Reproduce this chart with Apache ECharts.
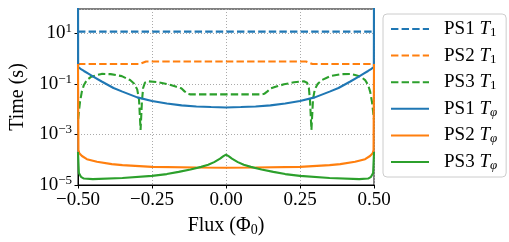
<!DOCTYPE html>
<html><head><meta charset="utf-8">
<script src="https://cdn.jsdelivr.net/npm/echarts@6/dist/echarts.min.js"></script>
<style>html,body{margin:0;padding:0;background:#fff}#c{width:509px;height:242px}</style>
</head><body><div id="c"></div>
<script>
// ---- data ----
var seriesNames = ['PS1 T1', 'PS2 T1', 'PS3 T1', 'PS1 Tphi', 'PS2 Tphi', 'PS3 Tphi'];
var legendLabels = ['PS1 {it|T}{sub|1}', 'PS2 {it|T}{sub|1}', 'PS3 {it|T}{sub|1}',
                    'PS1 {it|T}{subit|φ}', 'PS2 {it|T}{subit|φ}', 'PS3 {it|T}{subit|φ}'];
var xTicks = [-0.5, -0.25, 0, 0.25, 0.5];
var yTickExponents = [-5, -3, -1, 1];

var ps1T1Flux = [-0.5, 0.5];
var ps1T1Vals = [11.5, 11.5];

var ps2T1Flux = [-0.5, -0.292, -0.27, 0.27, 0.292, 0.5];
var ps2T1Vals = [0.6, 0.6, 0.76, 0.76, 0.6, 0.6];

var ps3T1Flux = [-0.4995, -0.497, -0.493, -0.487, -0.48, -0.47, -0.455, -0.436, -0.42, -0.39, -0.352, -0.324, -0.31, -0.30, -0.294, -0.2886, -0.284, -0.28, -0.274, -0.263, -0.23, -0.196, -0.17, -0.151, -0.14, -0.129, -0.12,
                 0.12, 0.129, 0.14, 0.151, 0.17, 0.196, 0.23, 0.263, 0.274, 0.28, 0.284, 0.2886, 0.294, 0.30, 0.31, 0.324, 0.352, 0.39, 0.42, 0.436, 0.455, 0.47, 0.48, 0.487, 0.493, 0.497, 0.4995];
var ps3T1Vals = [0.004, 0.008, 0.02, 0.049, 0.09, 0.14, 0.19, 0.22, 0.245, 0.24, 0.2, 0.14, 0.1, 0.06, 0.025, 0.0015, 0.02, 0.068, 0.11, 0.125, 0.115, 0.095, 0.078, 0.066, 0.05, 0.04, 0.038,
                 0.038, 0.04, 0.05, 0.066, 0.078, 0.095, 0.115, 0.125, 0.11, 0.068, 0.02, 0.0015, 0.025, 0.06, 0.1, 0.14, 0.2, 0.24, 0.245, 0.22, 0.19, 0.14, 0.09, 0.049, 0.02, 0.008, 0.004];

var ps1TphiFlux = [-0.5, -0.4995, -0.49, -0.48, -0.465, -0.45, -0.42, -0.38, -0.35, -0.30, -0.25, -0.20, -0.15, -0.10, -0.05, 0,
                   0.05, 0.10, 0.15, 0.20, 0.25, 0.30, 0.35, 0.38, 0.42, 0.45, 0.465, 0.48, 0.49, 0.4995, 0.5];
var ps1TphiVals = [1000, 0.46, 0.38, 0.32, 0.25, 0.195, 0.123, 0.068, 0.049, 0.029, 0.021, 0.0166, 0.014, 0.0126, 0.012, 0.0115,
                   0.012, 0.0126, 0.014, 0.0166, 0.021, 0.029, 0.049, 0.068, 0.123, 0.195, 0.25, 0.32, 0.38, 0.46, 1000];

var ps2TphiFlux = [-0.5, -0.4985, -0.4956, -0.4866, -0.47, -0.436, -0.386, -0.35, -0.25, -0.1, 0,
                   0.1, 0.25, 0.35, 0.386, 0.436, 0.47, 0.4866, 0.4956, 0.4985, 0.5];
var ps2TphiVals = [0.6, 2.4e-4, 1.8e-4, 1.4e-4, 1.05e-4, 8.3e-5, 6.7e-5, 6.1e-5, 5.2e-5, 4.9e-5, 4.8e-5,
                   4.9e-5, 5.2e-5, 6.1e-5, 6.7e-5, 8.3e-5, 1.05e-4, 1.4e-4, 1.8e-4, 2.4e-4, 0.6];

var ps3TphiFlux = [-0.5, -0.497, -0.49, -0.48, -0.45, -0.35, -0.25, -0.2, -0.16, -0.12, -0.084, -0.06, -0.04, -0.02, -0.01, 0,
                   0.01, 0.02, 0.04, 0.06, 0.084, 0.12, 0.16, 0.2, 0.25, 0.35, 0.45, 0.48, 0.49, 0.497, 0.5];
var ps3TphiVals = [2e-4, 3e-5, 2.1e-5, 1.8e-5, 1.7e-5, 1.9e-5, 2.3e-5, 2.7e-5, 3.3e-5, 4.1e-5, 5.2e-5, 6.3e-5, 8e-5, 1.1e-4, 1.35e-4, 1.6e-4,
                   1.35e-4, 1.1e-4, 8e-5, 6.3e-5, 5.2e-5, 4.1e-5, 3.3e-5, 2.7e-5, 2.3e-5, 1.9e-5, 1.7e-5, 1.8e-5, 2.1e-5, 3e-5, 2e-4];

// ---- chart ----
var BLUE = '#1f77b4', ORANGE = '#ff7f0e', GREEN = '#2ca02c';
var FONT = 'Liberation Serif';
function pairs(xs, ys) { return xs.map(function (x, i) { return [x, ys[i]]; }); }
function mk(name, xs, ys, color, dashed) {
  return {
    name: name, type: 'line', data: pairs(xs, ys), showSymbol: false, symbol: 'none',
    animation: false, clip: true,
    lineStyle: { color: color, width: 2.1, type: dashed ? [7.4, 3.2] : 'solid' },
    itemStyle: { color: color }
  };
}
var chart = echarts.init(document.getElementById('c'), null, { renderer: 'canvas' });
var legendMap = {};
seriesNames.forEach(function (n, i) { legendMap[n] = legendLabels[i]; });

chart.setOption({
  animation: false,
  grid: { left: 76, right: 135, top: 9, bottom: 57, show: true, borderColor: '#000', borderWidth: 1, backgroundColor: 'transparent' },
  xAxis: {
    type: 'value', min: xTicks[0], max: xTicks[xTicks.length - 1], interval: 0.25,
    name: 'Flux (Φ{sub|0})', nameLocation: 'middle', nameGap: 27,
    nameTextStyle: { fontFamily: FONT, fontSize: 20, color: '#000', lineHeight: 22,
      rich: { sub: { fontFamily: FONT, fontSize: 14, verticalAlign: 'bottom', lineHeight: 12, color: '#000' } } },
    axisLine: { show: true, onZero: false, lineStyle: { color: '#000', width: 1 } },
    axisTick: { show: true, inside: false, length: 3.5, lineStyle: { color: '#000', width: 1 } },
    axisLabel: { fontFamily: FONT, fontSize: 19, color: '#000', margin: 6,
      formatter: function (v) { var s = Math.abs(v).toFixed(2); return (v < -1e-9 ? '−' : '') + s; } },
    splitLine: { show: true, lineStyle: { color: '#aaaaaa', width: 1, type: [1, 2] } }
  },
  yAxis: {
    type: 'log', logBase: 10, min: Math.pow(10, yTickExponents[0]), max: 90, interval: 2,
    name: 'Time (s)', nameLocation: 'middle', nameGap: 50,
    nameTextStyle: { fontFamily: FONT, fontSize: 20, color: '#000' },
    axisLine: { show: true, onZero: false, lineStyle: { color: '#000', width: 1 } },
    axisTick: { show: true, inside: false, length: 3.5, lineStyle: { color: '#000', width: 1 } },
    minorTick: { show: false },
    axisLabel: { fontFamily: FONT, fontSize: 19, color: '#000', margin: 6, lineHeight: 22, showMaxLabel: false,
      formatter: function (v) {
        var l = Math.log(v) / Math.LN10; var e = Math.round(l);
        if (Math.abs(l - e) > 0.02 || yTickExponents.indexOf(e) < 0) return '';
        return '10{sup|' + (e < 0 ? '−' + (-e) : '' + e) + '}';
      },
      rich: { sup: { fontFamily: FONT, fontSize: 13, verticalAlign: 'top', lineHeight: 10, color: '#000' } } },
    splitLine: { show: true, lineStyle: { color: '#aaaaaa', width: 1, type: [1, 2] } }
  },
  legend: {
    orient: 'vertical', left: 383, top: 14, width: 119,
    padding: [5, 9, 5, 7], itemGap: 6.6, itemWidth: 38, itemHeight: 14,
    backgroundColor: 'rgba(255,255,255,0.8)', borderColor: '#cccccc', borderWidth: 1, borderRadius: 4,
    itemStyle: { opacity: 0 },
    lineStyle: { width: 2 },
    data: seriesNames,
    formatter: function (n) { return legendMap[n]; },
    textStyle: { fontFamily: FONT, fontSize: 19, color: '#000', lineHeight: 20, padding: [0, 0, 0, 10],
      rich: {
        it: { fontFamily: FONT, fontSize: 19, fontStyle: 'italic', lineHeight: 20, color: '#000' },
        sub: { fontFamily: FONT, fontSize: 13, verticalAlign: 'bottom', lineHeight: 10, color: '#000' },
        subit: { fontFamily: FONT, fontSize: 13, fontStyle: 'italic', verticalAlign: 'bottom', lineHeight: 10, color: '#000' }
      } }
  },
  series: [
    mk(seriesNames[0], ps1T1Flux, ps1T1Vals, BLUE, true),
    mk(seriesNames[1], ps2T1Flux, ps2T1Vals, ORANGE, true),
    mk(seriesNames[2], ps3T1Flux, ps3T1Vals, GREEN, true),
    mk(seriesNames[3], ps1TphiFlux, ps1TphiVals, BLUE, false),
    mk(seriesNames[4], ps2TphiFlux, ps2TphiVals, ORANGE, false),
    mk(seriesNames[5], ps3TphiFlux, ps3TphiVals, GREEN, false)
  ]
});
</script></body></html>
